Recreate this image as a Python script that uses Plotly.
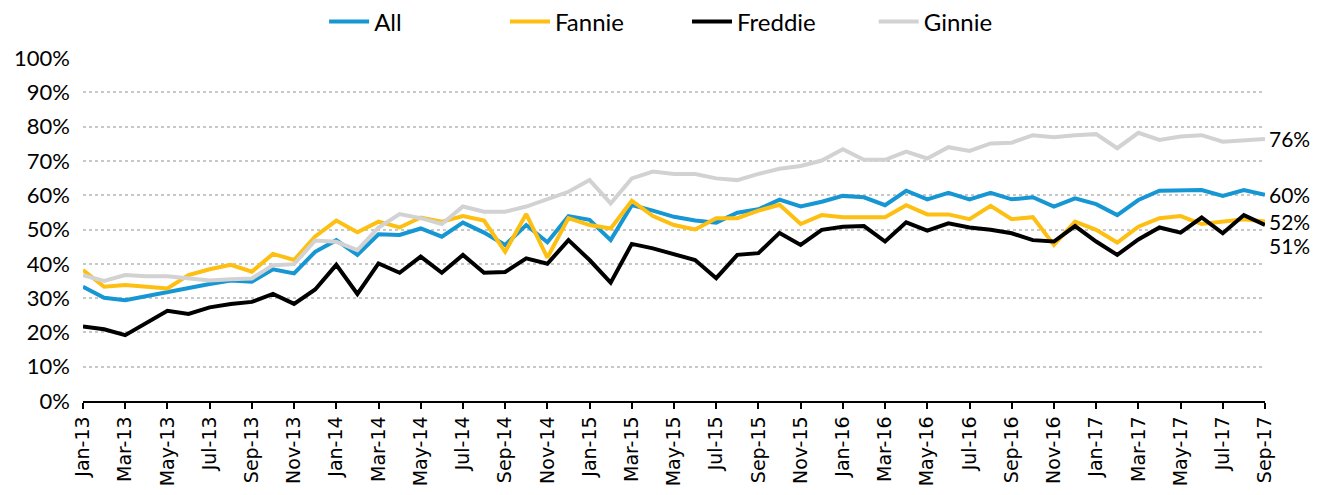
import plotly.graph_objects as go

# Month categories Jan-13 .. Sep-17
MONTH_NAMES = ['Jan', 'Feb', 'Mar', 'Apr', 'May', 'Jun',
               'Jul', 'Aug', 'Sep', 'Oct', 'Nov', 'Dec']
months = [f"{m}-{y}" for y in range(13, 18) for m in MONTH_NAMES][:57]
tick_labels = months[::2]

# Share (%) by agency
all_share = [33.3, 30.1, 29.4, 30.6, 31.6, 32.8, 34.1, 35.1, 34.8, 38.4, 37.2, 43.5,
             46.9, 42.6, 48.6, 48.4, 50.3, 47.9, 52.0, 49.1, 45.5, 51.3, 46.3, 53.9,
             52.8, 46.9, 57.1, 55.5, 53.7, 52.6, 52.0, 54.9, 55.9, 58.7, 56.7, 58.1,
             59.8, 59.4, 57.1, 61.3, 58.8, 60.7, 58.8, 60.7, 58.8, 59.4, 56.7, 59.1,
             57.4, 54.2, 58.6, 61.3, 61.3, 61.5, 59.8, 61.5, 60.1]
fannie = [38.2, 33.3, 33.8, 33.3, 32.8, 36.7, 38.4, 39.7, 37.7, 42.9, 41.1, 48.0,
          52.6, 49.2, 52.3, 50.6, 53.5, 52.3, 53.9, 52.6, 43.5, 54.5, 41.8, 53.3,
          51.3, 50.3, 58.4, 53.9, 51.3, 50.0, 53.3, 53.3, 55.5, 57.2, 51.6, 54.2,
          53.6, 53.6, 53.6, 57.1, 54.4, 54.4, 53.0, 56.9, 53.0, 53.6, 45.5, 52.3,
          49.9, 46.2, 50.8, 53.3, 53.9, 51.6, 52.3, 53.0, 52.3]
freddie = [21.7, 20.9, 19.2, 22.8, 26.3, 25.4, 27.3, 28.3, 28.9, 31.2, 28.3, 32.5,
           39.7, 31.2, 40.1, 37.4, 42.1, 37.4, 42.6, 37.4, 37.6, 41.6, 40.0, 46.9,
           41.1, 34.5, 45.8, 44.5, 42.9, 41.1, 35.8, 42.6, 43.1, 49.0, 45.5, 49.9,
           50.8, 51.0, 46.5, 52.1, 49.7, 51.8, 50.6, 49.9, 48.9, 46.9, 46.5, 51.0,
           46.5, 42.6, 47.1, 50.6, 49.1, 53.5, 48.9, 54.2, 51.3]
ginnie = [36.7, 35.0, 36.7, 36.4, 36.4, 35.7, 35.1, 35.5, 35.7, 39.6, 39.9, 46.8,
          46.4, 44.0, 50.6, 54.5, 53.3, 51.6, 56.7, 55.2, 55.2, 56.7, 58.8, 61.0,
          64.4, 57.6, 64.9, 66.9, 66.2, 66.2, 64.9, 64.4, 66.2, 67.7, 68.5, 70.1,
          73.4, 70.3, 70.3, 72.7, 70.7, 74.0, 72.9, 75.1, 75.3, 77.5, 76.9, 77.5,
          77.8, 73.7, 78.2, 76.1, 77.1, 77.5, 75.6, 76.1, 76.4]

# name, values, colour, label yshift, legend id, legend x (paper)
series = [
    ('All', all_share, '#1696d2', 0, 'legend', 0.204),
    ('Fannie', fannie, '#fdbf11', 0, 'legend2', 0.357),
    ('Freddie', freddie, '#000000', -20, 'legend3', 0.511),
    ('Ginnie', ginnie, '#d2d2d2', 0, 'legend4', 0.669),
]

fig = go.Figure()
for name, vals, color, _, leg, _ in series:
    fig.add_trace(go.Scatter(
        x=months, y=vals,
        mode='lines',
        name=name,
        legend=leg,
        line=dict(color=color, width=4),
    ))

# End-of-line value labels
for name, vals, color, yshift, _, _ in series:
    fig.add_annotation(
        x=months[-1], y=vals[-1],
        text=f"{round(vals[-1])}%",
        showarrow=False,
        xanchor='left', yanchor='middle',
        xshift=2, yshift=yshift,
        font=dict(family='Lato', size=21, color='#000000'),
    )

# one small legend per series so spacing matches the original
legends = {}
for _, _, _, _, leg, lx in series:
    legends[leg] = dict(
        orientation='h',
        x=lx, xanchor='left',
        y=1.105, yanchor='middle',
        font=dict(family='Lato', size=24, color='#000000'),
        bgcolor='rgba(0,0,0,0)',
        itemwidth=40,
    )

# page body adds ~8px offset, so margins are trimmed on top/left
fig.update_layout(
    width=1325, height=495,
    plot_bgcolor='white',
    paper_bgcolor='white',
    font=dict(family='Lato', color='#000000'),
    margin=dict(l=75, r=68, t=50, b=102, autoexpand=False),
    showlegend=True,
    **legends,
    xaxis=dict(
        type='category',
        range=[0, len(months) - 1],
        tickmode='array',
        tickvals=tick_labels,
        ticktext=tick_labels,
        tickangle=-90,
        ticks='outside', ticklen=6, tickwidth=1.5, tickcolor='#000000',
        showline=True, linecolor='#000000', linewidth=1.5,
        showgrid=False,
        automargin=False,
        tickfont=dict(family='DejaVu Sans', size=19, color='#000000'),
    ),
    yaxis=dict(
        range=[0, 100],
        dtick=10,
        ticksuffix='%',
        showgrid=True, gridcolor='#c8c8c8', gridwidth=2, griddash='dot',
        zeroline=False,
        automargin=False,
        ticklabelstandoff=12,
        tickfont=dict(family='Lato', size=22, color='#000000'),
    ),
)

fig.write_html("out.html")
